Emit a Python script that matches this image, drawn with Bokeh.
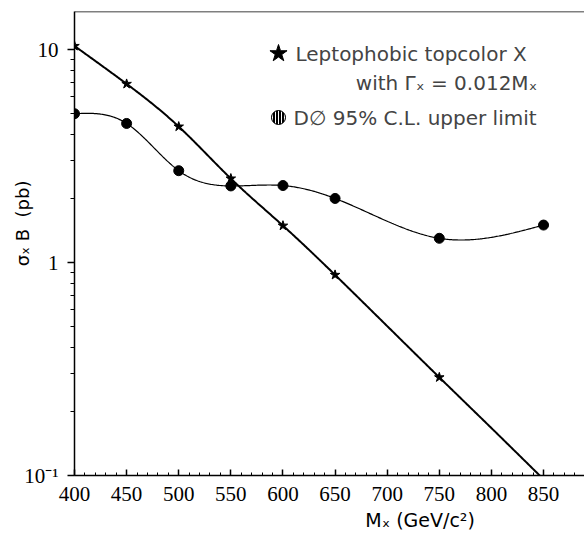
import numpy as np
from bokeh.plotting import figure
from bokeh.models import FixedTicker, Label, Span
from bokeh.embed import file_html
from bokeh.resources import INLINE

# ---- data ----
theory_mass = [400, 450, 500, 550, 600, 650, 700, 750, 800, 850]
theory_xsec = [10.4, 6.9, 4.35, 2.48, 1.49, 0.875, 0.503, 0.289, 0.167, 0.096]
star_mass = [400, 450, 500, 550, 600, 650, 750]
limit_mass = [400, 450, 500, 550, 600, 650, 750, 850]
limit_xsec = [5.0, 4.5, 2.7, 2.29, 2.3, 2.0, 1.3, 1.5]
x_ticks = [400, 450, 500, 550, 600, 650, 700, 750, 800, 850]
y_ticks = [0.1, 1, 10]
y_tick_labels = ["10\u207b\u00b9", "1", "10"]

legend_theory = "Leptophobic topcolor X"
legend_width = "with \u0393\u2093 = 0.012M\u2093"
legend_limit = "D\u2205 95% C.L. upper limit"
x_title = "M\u2093 (GeV/c\u00b2)"
y_title = "\u03c3\u2093 B\u00a0\u00a0(pb)"


def natural_spline(xs, ys, xnew):
    x = np.asarray(xs, float)
    y = np.asarray(ys, float)
    n = len(x)
    h = np.diff(x)
    A = np.zeros((n, n))
    r = np.zeros(n)
    A[0, 0] = 1
    A[-1, -1] = 1
    for i in range(1, n - 1):
        A[i, i - 1] = h[i - 1]
        A[i, i] = 2 * (h[i - 1] + h[i])
        A[i, i + 1] = h[i]
        r[i] = 3 * ((y[i + 1] - y[i]) / h[i] - (y[i] - y[i - 1]) / h[i - 1])
    c = np.linalg.solve(A, r)
    b = (y[1:] - y[:-1]) / h - h * (2 * c[:-1] + c[1:]) / 3
    d = (c[1:] - c[:-1]) / (3 * h)
    idx = np.clip(np.searchsorted(x, xnew) - 1, 0, n - 2)
    dx = xnew - x[idx]
    return y[idx] + b[idx] * dx + c[idx] * dx ** 2 + d[idx] * dx ** 3


x0, x1 = 400, 889.3
y0, y1 = 0.1, 15.1
W, H = 584, 533
BL, BR, BT, BB = 74, 0, 11, 58

p = figure(width=W, height=H, x_range=(x0, x1), y_range=(y0, y1),
           y_axis_type="log", output_backend="svg", toolbar_location=None,
           min_border_left=BL, min_border_right=BR, min_border_top=BT,
           min_border_bottom=BB, outline_line_color=None,
           background_fill_color="white", border_fill_color="white")
p.xgrid.visible = False
p.ygrid.visible = False

# curves (smooth, in log space)
xt = np.linspace(theory_mass[0], theory_mass[-1], 400)
yt = 10 ** natural_spline(theory_mass, np.log10(theory_xsec), xt)
p.line(xt, yt, line_color="black", line_width=2)

xl = np.linspace(limit_mass[0], limit_mass[-1], 400)
yl = 10 ** natural_spline(limit_mass, np.log10(limit_xsec), xl)
p.line(xl, yl, line_color="black", line_width=1.2)

star_vals = [theory_xsec[theory_mass.index(m)] for m in star_mass]
p.scatter(star_mass, star_vals, marker="star", size=10, fill_color="black",
          line_color="black")
p.scatter(limit_mass, limit_xsec, marker="circle", size=10, fill_color="black",
          line_color="black")

# top frame border
p.add_layout(Span(location=y1, dimension="width", line_color="black", line_width=1.5))

fw = W - BL - BR
fh = H - BT - BB
xpx = fw / (x1 - x0)
ldec = np.log10(y1) - np.log10(y0)


def sx_to_data(sx):
    return x0 + sx / xpx


def sy_to_data(sy_from_bottom):
    return 10 ** (np.log10(y0) + sy_from_bottom / fh * ldec)


sans = "DejaVu Sans"
NB = "\u00a0"

xa = p.xaxis[0]
xa.ticker = FixedTicker(ticks=x_ticks, minor_ticks=list(range(400, 890, 10)))
xa.axis_line_width = 1.5
xa.major_tick_in = 6
xa.major_tick_out = 0
xa.minor_tick_in = 3
xa.minor_tick_out = 0
xa.major_tick_line_width = 1.5
xa.major_label_text_font = "Liberation Serif"
xa.major_label_text_font_size = "21px"
xa.major_label_text_color = "black"
xa.major_label_standoff = 11
xa.axis_label = NB * 30 + x_title
xa.axis_label_text_font = sans
xa.axis_label_text_font_size = "19px"
xa.axis_label_text_font_style = "normal"
xa.axis_label_text_color = "black"
xa.axis_label_standoff = 5

ya = p.yaxis[0]
ya.ticker = FixedTicker(ticks=y_ticks,
                        minor_ticks=[m * 10.0 ** e for e in (-1, 0, 1) for m in range(2, 10)])
ya.axis_line_width = 1.5
ya.major_tick_in = 0
ya.major_tick_out = 7
ya.minor_tick_in = 0
ya.minor_tick_out = 4
ya.major_tick_line_width = 1.5
ya.major_label_text_font = "Liberation Serif"
ya.major_label_text_font_size = "21px"
ya.major_label_text_color = "black"
ya.major_label_standoff = 9
ya.major_label_overrides = {t: s for t, s in zip(y_ticks, y_tick_labels)}
ya.axis_label = NB * 7 + y_title
ya.axis_label_text_font = sans
ya.axis_label_text_font_size = "18px"
ya.axis_label_text_font_style = "normal"
ya.axis_label_text_color = "black"
ya.axis_label_standoff = -12

# legend
p.add_layout(Label(x=221, y=422, x_units="screen", y_units="screen", text=legend_theory,
                   text_font=sans, text_font_size="20px", text_baseline="alphabetic"))
p.add_layout(Label(x=463, y=393, x_units="screen", y_units="screen", text=legend_width,
                   text_font=sans, text_font_size="20px", text_baseline="alphabetic",
                   text_align="right"))
p.add_layout(Label(x=219, y=358, x_units="screen", y_units="screen", text=legend_limit,
                   text_font=sans, text_font_size="20px", text_baseline="alphabetic"))
p.scatter([sx_to_data(204)], [sy_to_data(422)], marker="star", size=18,
          fill_color="black", line_color="black")
p.scatter([sx_to_data(204)], [sy_to_data(358)], marker="circle", size=14,
          fill_color="black", line_color="black", hatch_pattern="|",
          hatch_color="white", hatch_scale=3, hatch_weight=1)

open("out.html", "w").write(file_html(p, INLINE))
